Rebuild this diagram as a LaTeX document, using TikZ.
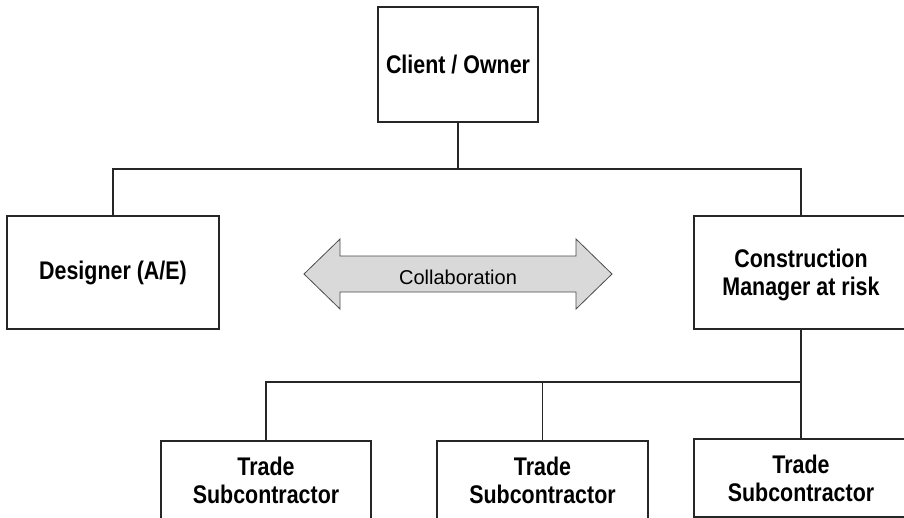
\documentclass[tikz,border=0pt]{standalone}
\usepackage{fontspec}
\setmainfont{Liberation Sans}
\newfontfamily\boxfont{Liberation Sans}[FakeStretch=0.84]
\begin{document}
\begin{tikzpicture}[x=1pt,y=-1pt,
  box/.style={draw=black!85, line width=1.3pt, fill=white, align=center, text=black,
    font=\boxfont\bfseries\fontsize{25.5}{28}\selectfont, inner sep=0pt},
  conn/.style={draw=black!85, line width=1.2pt},
  collabarrow/.style={fill=black!15, draw=black!70, line width=0.8pt, line join=miter}]
\useasboundingbox (0,0) rectangle (904,517);
\clip (0,0) rectangle (904,517);
\fill[white] (0,0) rectangle (904,517);

% boxes
\node[box, minimum width=160pt, minimum height=115pt] (client) at (458,64.5) {Client / Owner};
\node[box, minimum width=212pt, minimum height=113pt] (designer) at (113,272.5) {Designer (A/E)};
\node[box, minimum width=214pt, minimum height=113pt, text depth=0pt] (cm) at (801,272.5) {Construction\\Manager at risk};
\node[box, minimum width=210pt, minimum height=78pt] (t1) at (266,480) {Trade\\Subcontractor};
\node[box, minimum width=211pt, minimum height=78pt] (t2) at (542.5,480) {Trade\\Subcontractor};
\node[box, minimum width=214pt, minimum height=78pt] (t3) at (801,478) {Trade\\Subcontractor};

% collaboration arrow
\draw[collabarrow] (304,274) -- (340,239) -- (340,256) -- (576,256) -- (576,239) -- (612,274)
  -- (576,309) -- (576,292) -- (340,292) -- (340,309) -- cycle;
\node[font=\fontsize{20}{24}\selectfont, text=black, inner sep=0pt] (collab) at (458,277) {Collaboration};

% connectors
\coordinate (bus1) at (458,169);
\draw[conn] (client.south) -- (bus1);
\draw[conn] (designer.north) -- (designer.north |- bus1) -- (cm.north |- bus1) -- (cm.north);

\coordinate (bus2) at (801,382);
\draw[conn] (cm.south) -- (t3.north);
\draw[conn] (t1.north) -- (t1.north |- bus2) -- (bus2);
\draw[conn] (t2.north) -- (t2.north |- bus2);
\end{tikzpicture}
\end{document}
